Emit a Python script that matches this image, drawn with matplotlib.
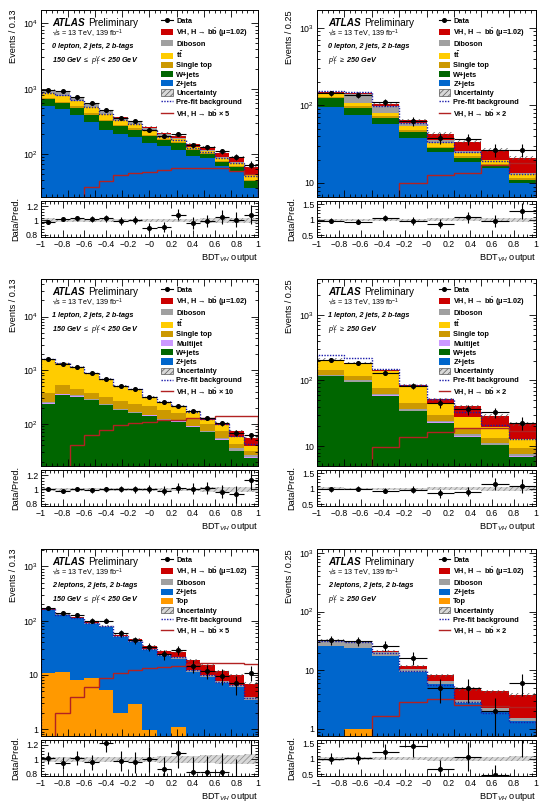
import numpy as np
import matplotlib
matplotlib.use('Agg')
from matplotlib import pyplot as plt
from matplotlib.patches import Patch
from matplotlib.lines import Line2D
from matplotlib.ticker import FuncFormatter, AutoMinorLocator, FixedLocator

plt.rcParams['font.family'] = ['Liberation Sans', 'DejaVu Sans']
plt.rcParams['mathtext.fontset'] = 'custom'
plt.rcParams['mathtext.rm'] = 'Liberation Sans'
plt.rcParams['mathtext.it'] = 'Liberation Sans:italic'
plt.rcParams['mathtext.bf'] = 'Liberation Sans:bold'
plt.rcParams['hatch.linewidth'] = 0.5

# ---- 0 lepton, 150-250 GeV (15 bins)
p1_data = [950, 922, 752, 595, 470, 362, 318, 237, 191, 205, 138, 127, 110, 90, 69]
p1_ratio = [0.98, 1.02, 1.03, 1.02, 1.03, 0.99, 1.0, 0.9, 0.91, 1.08, 0.97, 0.99, 1.05, 1.01, 1.08]
p1_zjets = [550, 480, 400, 305, 235, 205, 182, 147, 131, 117, 94, 86, 66, 55, 30]
p1_wjets = [140, 120, 115, 95, 85, 65, 55, 43, 34, 30, 20, 14, 10, 8, 8]
p1_stop = [30, 28, 22, 18, 14, 11, 9, 7, 6, 5, 4, 3, 2, 2, 2]
p1_ttbar = [125, 145, 110, 110, 80, 50, 42, 35, 18, 18, 8, 8, 10, 8, 8]
p1_diboson = [119, 125, 80, 50, 35, 25, 20, 19, 10, 8, 4, 4, 3, 3, 2]
p1_vh = [1, 2, 3, 5, 7, 9, 10, 11, 11, 12, 12, 13, 14, 13, 14]
p1_sig = [5, 5, 5, 31, 38, 48, 51, 54, 57, 62, 62, 62, 62, 55, 50]
p1_prefit = [870, 800, 660, 530, 415, 330, 290, 230, 185, 165, 122, 108, 86, 72, 46]
p1_unc = [0.03, 0.025, 0.025, 0.02, 0.02, 0.02, 0.02, 0.02, 0.02, 0.025, 0.025, 0.03, 0.03, 0.035, 0.04]

# ---- 0 lepton, >= 250 GeV (8 bins)
p2_data = [143, 136, 110, 63, 38, 37, 26.5, 27]
p2_ratio = [0.97, 0.94, 1.05, 0.97, 0.88, 1.08, 0.97, 1.28]
p2_zjets = [95, 76, 58, 38, 25, 18.4, 15.6, 10]
p2_wjets = [30, 18, 11, 8, 3, 2.6, 1.4, 1]
p2_stop = [4, 4, 3, 2, 1.5, 1, 0.8, 0.6]
p2_ttbar = [10, 10, 8, 6, 3.5, 2, 1.7, 1.4]
p2_diboson = [6, 34, 19, 5, 3, 1.5, 0.5, 0.5]
p2_vh = [2, 3, 6, 6, 7, 8.5, 7, 7.5]
p2_sig = [3, 4, 5, 10, 12.8, 13.5, 17, 18]
p2_prefit = [152, 150, 97, 60, 34, 25, 19, 13]
p2_unc = [0.04, 0.04, 0.04, 0.04, 0.05, 0.05, 0.06, 0.07]

# ---- 1 lepton, 150-250 GeV
p3_data = [1603, 1314, 1170, 879, 690, 518, 443, 323, 253, 220, 177, 131, 103, 69, 61]
p3_ratio = [1.0, 0.98, 1.01, 0.99, 1.0, 1.01, 1.0, 1.0, 0.98, 1.02, 1.01, 1.02, 0.97, 0.93, 1.13]
p3_zjets = [5, 4, 4, 3, 3, 2, 2, 2, 1, 1, 1, 1, 1, 1, 1]
p3_wjets = [231, 343, 319, 277, 223, 180, 156, 141, 118, 109, 88, 70, 50, 30, 22]
p3_multijet = [8, 7, 6, 5, 4, 3, 3, 2, 2, 2, 1, 1, 1, 1, 1]
p3_diboson = [12, 12, 10, 8, 7, 6, 5, 5, 4, 4, 3, 3, 3, 3, 2]
p3_stop = [117, 166, 110, 80, 75, 80, 70, 65, 55, 45, 35, 25, 18, 8, 6]
p3_ttbar = [1229, 807, 709, 513, 375, 239, 203, 104, 73, 49, 39, 19, 22, 13, 7]
p3_vh = [1, 1, 2, 2, 3, 3, 4, 4, 5, 6, 8, 9, 11, 18, 15]
p3_sig = [8, 15, 41, 62, 77, 96, 103, 110, 119, 119, 127, 127, 143, 143, 143]
p3_prefit = [1620, 1350, 1170, 890, 690, 515, 440, 320, 255, 212, 168, 122, 98, 60, 42]
p3_unc = [0.02, 0.02, 0.02, 0.02, 0.02, 0.02, 0.02, 0.02, 0.02, 0.025, 0.025, 0.03, 0.03, 0.04, 0.04]

# ---- 1 lepton, >= 250 GeV
p4_data = [205, 183, 132, 82, 44.8, 36.3, 32.7, 22.7]
p4_ratio = [0.98, 1.0, 0.93, 0.97, 0.85, 0.91, 1.15, 1.08]
p4_zjets = [3, 2, 1.5, 1, 0.6, 0.4, 0.3, 0.2]
p4_wjets = [112, 92, 57, 33, 22, 13.5, 10, 6.6]
p4_multijet = [2, 1.5, 1, 0.7, 0.4, 0.3, 0.2, 0.2]
p4_diboson = [6, 5, 3, 2, 1.5, 1, 0.8, 0.6]
p4_stop = [22, 17, 14, 9, 5, 3, 2, 1.8]
p4_ttbar = [60, 62, 64, 33, 14, 10, 6, 3.7]
p4_vh = [2, 3, 4, 6, 8, 12, 9.4, 8.4]
p4_sig = [3, 3, 9.8, 13.9, 16.2, 18.6, 19, 17]
p4_prefit = [245, 218, 148, 85, 53, 33.5, 21, 13]
p4_unc = [0.05, 0.04, 0.04, 0.04, 0.05, 0.05, 0.06, 0.07]

# ---- 2 leptons, 150-250 GeV
p5_data = [169, 137, 128, 100, 100, 58.6, 44, 33.3, 24, 28.9, 14.7, 11.9, 9.6, 7.0, 11.0]
p5_ratio = [1.02, 0.95, 1.02, 0.96, 1.23, 0.98, 0.96, 1.0, 0.86, 1.09, 0.82, 0.82, 0.82, 0.73, 1.55]
p5_top = [10.7, 11.5, 8.1, 8.7, 5.3, 1.96, 2.9, 0.95, 0.5, 1.1, 0.3, 0.3, 0.2, 0.2, 0.2]
p5_zjets = [147, 116, 103, 80, 71, 49, 38, 28, 21.5, 19, 11.2, 9, 6.8, 5.9, 3.3]
p5_diboson = [3, 3, 3, 3, 3, 2, 2, 1.5, 1.5, 1.2, 1, 0.8, 0.7, 0.5, 0.4]
p5_vh = [0.5, 0.7, 1, 1.5, 2, 2.5, 3, 3.5, 4, 5, 6, 5, 4, 3.2, 3]
p5_sig = [0.5, 1.96, 4, 6.1, 8.7, 10.7, 12.4, 13.3, 14.2, 14.7, 16, 16.5, 16.9, 16.5, 16.2]
p5_prefit = [161, 130, 113, 92, 79, 53, 43, 30, 23, 21, 12.5, 10, 7.5, 6.5, 3.8]
p5_unc = [0.03, 0.03, 0.03, 0.03, 0.03, 0.03, 0.035, 0.04, 0.045, 0.05, 0.05, 0.055, 0.06, 0.06, 0.07]

# ---- 2 leptons, >= 250 GeV
p6_data = [33.3, 31.2, 26.3, 16.2, 5, 5, 2.0, 6.1]
p6_ratio = [1.0, 1.03, 1.22, 1.4, 0.68, 1.07, 0.48, 1.7]
p6_top = [0.2, 1.0, 0.1, 0.1, 0.1, 0.05, 0.05, 0.05]
p6_zjets = [25.4, 23, 17.7, 9.1, 5.8, 2.75, 1.95, 1.3]
p6_diboson = [6.5, 6, 2.5, 1.2, 0.8, 0.3, 0.3, 0.2]
p6_vh = [0.3, 0.5, 1.2, 1.4, 1.5, 1.7, 2.1, 2.2]
p6_sig = [0.3, 0.5, 1.64, 2.9, 3.25, 2.6, 2.5, 2.4]
p6_prefit = [31, 30, 19.8, 9.6, 5.7, 2.9, 1.9, 1.3]
p6_unc = [0.06, 0.05, 0.05, 0.05, 0.06, 0.07, 0.07, 0.08]

C_VH = '#cc0000'
C_DIB = '#a0a0a0'
C_TT = '#ffcc00'
C_STOP = '#cc9900'
C_MJ = '#cc99ff'
C_W = '#006600'
C_Z = '#0066cc'
C_TOP = '#ff9900'
C_SIG = '#b22222'
C_PRE = '#1a1aaa'

VH_LABEL = r'VH, H → b$\bar{\mathbf{b}}$ ($\mathbf{\mu}$=1.02)'
TT_LABEL = r'$\mathbf{t\bar{t}}$'


def log_fmt(v, pos):
    if abs(v - 1) < 1e-9:
        return '1'
    if abs(v - 10) < 1e-9:
        return '10'
    return r'$10^{%d}$' % int(round(np.log10(v)))


def style(ax):
    ax.tick_params(which='both', direction='in', top=True, right=True, labelsize=6.3, pad=2)
    ax.tick_params(which='major', length=5, width=0.6)
    ax.tick_params(which='minor', length=2.5, width=0.6)
    for s in ax.spines.values():
        s.set_linewidth(0.7)


def draw_panel(ax, rax, stack, data, ratio, sig, prefit, unc, ylim, rlim, rticks,
               ylabel, lines, legend_items):
    nb = len(data)
    edges = np.linspace(-1, 1, nb + 1)
    centers = 0.5 * (edges[1:] + edges[:-1])
    hw = 0.5 * (edges[1] - edges[0])
    data = np.array(data, float)
    unc = np.array(unc)

    bottom = np.full(nb, 1e-3)
    for vals, col in stack:
        top = bottom + np.array(vals, float)
        ax.stairs(top, edges, baseline=bottom, fill=True, color=col, lw=0)
        bottom = top
    total = bottom
    ax.stairs(total * (1 + unc), edges, baseline=total * (1 - unc), fill=True,
              facecolor='none', edgecolor='#555555', hatch='//////', lw=0)
    ax.stairs(prefit, edges, color=C_PRE, ls=(0, (1, 1)), lw=1.0)
    ax.stairs(sig, edges, color=C_SIG, lw=1.0)
    ax.errorbar(centers, data, xerr=hw, yerr=np.sqrt(data), fmt='o', ms=2.6,
                color='k', elinewidth=0.8, capsize=0)

    ax.set_yscale('log')
    ax.set_xlim(-1, 1)
    ax.set_ylim(*ylim)
    ax.yaxis.set_major_formatter(FuncFormatter(log_fmt))
    ax.xaxis.set_minor_locator(AutoMinorLocator(5))
    style(ax)
    ax.tick_params(labelbottom=False)
    ax.set_ylabel(ylabel, loc='top', fontsize=6.6, labelpad=4)

    ax.text(0.05, 0.932, 'ATLAS', transform=ax.transAxes, fontsize=7.2,
            fontweight='bold', style='italic', va='center')
    ax.text(0.215, 0.932, 'Preliminary', transform=ax.transAxes, fontsize=7.2, va='center')
    ax.text(0.05, 0.872, '√s = 13 TeV, 139 fb$^{-1}$', transform=ax.transAxes,
            fontsize=5.2, va='center')
    ax.text(0.05, 0.803, lines[0], transform=ax.transAxes, fontsize=5.2,
            fontweight='bold', style='italic', va='center')
    ax.text(0.05, 0.724, lines[1], transform=ax.transAxes, fontsize=5.2,
            fontweight='bold', style='italic', va='center')

    handles = []
    labels = []
    for kind, col, lab in legend_items:
        if kind == 'data':
            h = Line2D([], [], color='k', marker='o', ms=2.6, lw=0.8)
        elif kind == 'fill':
            h = Patch(facecolor=col, lw=0)
        elif kind == 'unc':
            h = Patch(facecolor='#d8d8d8', edgecolor='#555555', hatch='//////', lw=0.5)
        elif kind == 'pre':
            h = Line2D([], [], color=C_PRE, ls=(0, (1, 1)), lw=1.0)
        else:
            h = Line2D([], [], color=C_SIG, lw=1.0)
        handles.append(h)
        labels.append(lab)
    ax.legend(handles, labels, loc='upper left', bbox_to_anchor=(0.555, 0.962),
              frameon=False, prop={'size': 5.3, 'weight': 'bold'}, handlelength=1.6,
              handleheight=0.9, handletextpad=0.4, labelspacing=0.22,
              borderpad=0, borderaxespad=0)

    ratio = np.array(ratio)
    rax.stairs(1 + unc, edges, baseline=1 - unc, fill=True, facecolor='#d8d8d8',
               edgecolor='#888888', hatch='//////', lw=0)
    rax.errorbar(centers, ratio, xerr=hw, yerr=np.sqrt(data) / total, fmt='o', ms=2.6,
                 color='k', elinewidth=0.8, capsize=0)
    rax.set_xlim(-1, 1)
    rax.set_ylim(*rlim)
    rax.yaxis.set_major_locator(FixedLocator(rticks))
    rax.yaxis.set_major_formatter(FuncFormatter(lambda v, p: ('%g' % v)))
    rax.yaxis.set_minor_locator(AutoMinorLocator(5))
    rax.xaxis.set_minor_locator(AutoMinorLocator(5))
    rax.set_xticks(np.arange(-1, 1.01, 0.2))
    rax.xaxis.set_major_formatter(FuncFormatter(lambda v, p: ('%g' % round(v, 1)).replace('-', '−')))
    style(rax)
    rax.set_ylabel('Data/Pred.', fontsize=6.6, labelpad=4)
    rax.set_xlabel(r'BDT$_{VH}$ output', loc='right', fontsize=6.6, labelpad=2)


fig = plt.figure(figsize=(5.46, 8.11), dpi=100)
cols = [(0.0751, 0.3974), (0.5806, 0.4011)]
main_y = [0.7571, 0.4254, 0.0925]
ratio_y = [0.7078, 0.3761, 0.0432]
main_h = 0.2306
ratio_h = 0.0444

axes = []
for r in range(3):
    for c in range(2):
        x0, w = cols[c]
        ax = fig.add_axes([x0, main_y[r], w, main_h])
        rax = fig.add_axes([x0, ratio_y[r], w, ratio_h])
        axes.append((ax, rax))

low_pt = r'150 GeV $\leq$ $p_{T}^{V}$ < 250 GeV'
high_pt = r'$p_{T}^{V}$ $\geq$ 250 GeV'

leg0 = lambda n: [('data', None, 'Data'), ('fill', C_VH, VH_LABEL), ('fill', C_DIB, 'Diboson'),
                  ('fill', C_TT, TT_LABEL), ('fill', C_STOP, 'Single top'), ('fill', C_W, 'W+jets'),
                  ('fill', C_Z, 'Z+jets'), ('unc', None, 'Uncertainty'),
                  ('pre', None, 'Pre-fit background'),
                  ('sig', None, r'VH, H → b$\bar{\mathbf{b}}$ × %d' % n)]
leg1 = lambda n: [('data', None, 'Data'), ('fill', C_VH, VH_LABEL), ('fill', C_DIB, 'Diboson'),
                  ('fill', C_TT, TT_LABEL), ('fill', C_STOP, 'Single top'), ('fill', C_MJ, 'Multijet'),
                  ('fill', C_W, 'W+jets'), ('fill', C_Z, 'Z+jets'), ('unc', None, 'Uncertainty'),
                  ('pre', None, 'Pre-fit background'),
                  ('sig', None, r'VH, H → b$\bar{\mathbf{b}}$ × %d' % n)]
leg2 = lambda n: [('data', None, 'Data'), ('fill', C_VH, VH_LABEL), ('fill', C_DIB, 'Diboson'),
                  ('fill', C_Z, 'Z+jets'), ('fill', C_TOP, 'Top'), ('unc', None, 'Uncertainty'),
                  ('pre', None, 'Pre-fit background'),
                  ('sig', None, r'VH, H → b$\bar{\mathbf{b}}$ × %d' % n)]

draw_panel(*axes[0],
           [(p1_zjets, C_Z), (p1_wjets, C_W), (p1_stop, C_STOP), (p1_ttbar, C_TT),
            (p1_diboson, C_DIB), (p1_vh, C_VH)],
           p1_data, p1_ratio, p1_sig, p1_prefit, p1_unc, (22, 1.6e4), (0.77, 1.27),
           [0.8, 1, 1.2], 'Events / 0.13', ['0 lepton, 2 jets, 2 b-tags', low_pt], leg0(5))
draw_panel(*axes[1],
           [(p2_zjets, C_Z), (p2_wjets, C_W), (p2_stop, C_STOP), (p2_ttbar, C_TT),
            (p2_diboson, C_DIB), (p2_vh, C_VH)],
           p2_data, p2_ratio, p2_sig, p2_prefit, p2_unc, (6.6, 1700), (0.45, 1.6),
           [0.5, 1, 1.5], 'Events / 0.25', ['0 lepton, 2 jets, 2 b-tags', high_pt], leg0(2))
draw_panel(*axes[2],
           [(p3_zjets, C_Z), (p3_wjets, C_W), (p3_multijet, C_MJ), (p3_diboson, C_DIB),
            (p3_stop, C_STOP), (p3_ttbar, C_TT), (p3_vh, C_VH)],
           p3_data, p3_ratio, p3_sig, p3_prefit, p3_unc, (16.5, 5e4), (0.77, 1.27),
           [0.8, 1, 1.2], 'Events / 0.13', ['1 lepton, 2 jets, 2 b-tags', low_pt], leg1(10))
draw_panel(*axes[3],
           [(p4_zjets, C_Z), (p4_wjets, C_W), (p4_multijet, C_MJ), (p4_diboson, C_DIB),
            (p4_stop, C_STOP), (p4_ttbar, C_TT), (p4_vh, C_VH)],
           p4_data, p4_ratio, p4_sig, p4_prefit, p4_unc, (5, 3500), (0.45, 1.6),
           [0.5, 1, 1.5], 'Events / 0.25', ['1 lepton, 2 jets, 2 b-tags', high_pt], leg1(2))
draw_panel(*axes[4],
           [(p5_top, C_TOP), (p5_zjets, C_Z), (p5_diboson, C_DIB), (p5_vh, C_VH)],
           p5_data, p5_ratio, p5_sig, p5_prefit, p5_unc, (0.75, 2100), (0.77, 1.27),
           [0.8, 1, 1.2], 'Events / 0.13', ['2 leptons, 2 jets, 2 b-tags', low_pt], leg2(5))
draw_panel(*axes[5],
           [(p6_top, C_TOP), (p6_zjets, C_Z), (p6_diboson, C_DIB), (p6_vh, C_VH)],
           p6_data, p6_ratio, p6_sig, p6_prefit, p6_unc, (0.76, 1170), (0.45, 1.6),
           [0.5, 1, 1.5], 'Events / 0.25', ['2 leptons, 2 jets, 2 b-tags', high_pt], leg2(2))

fig.savefig('out.png', dpi=100)
